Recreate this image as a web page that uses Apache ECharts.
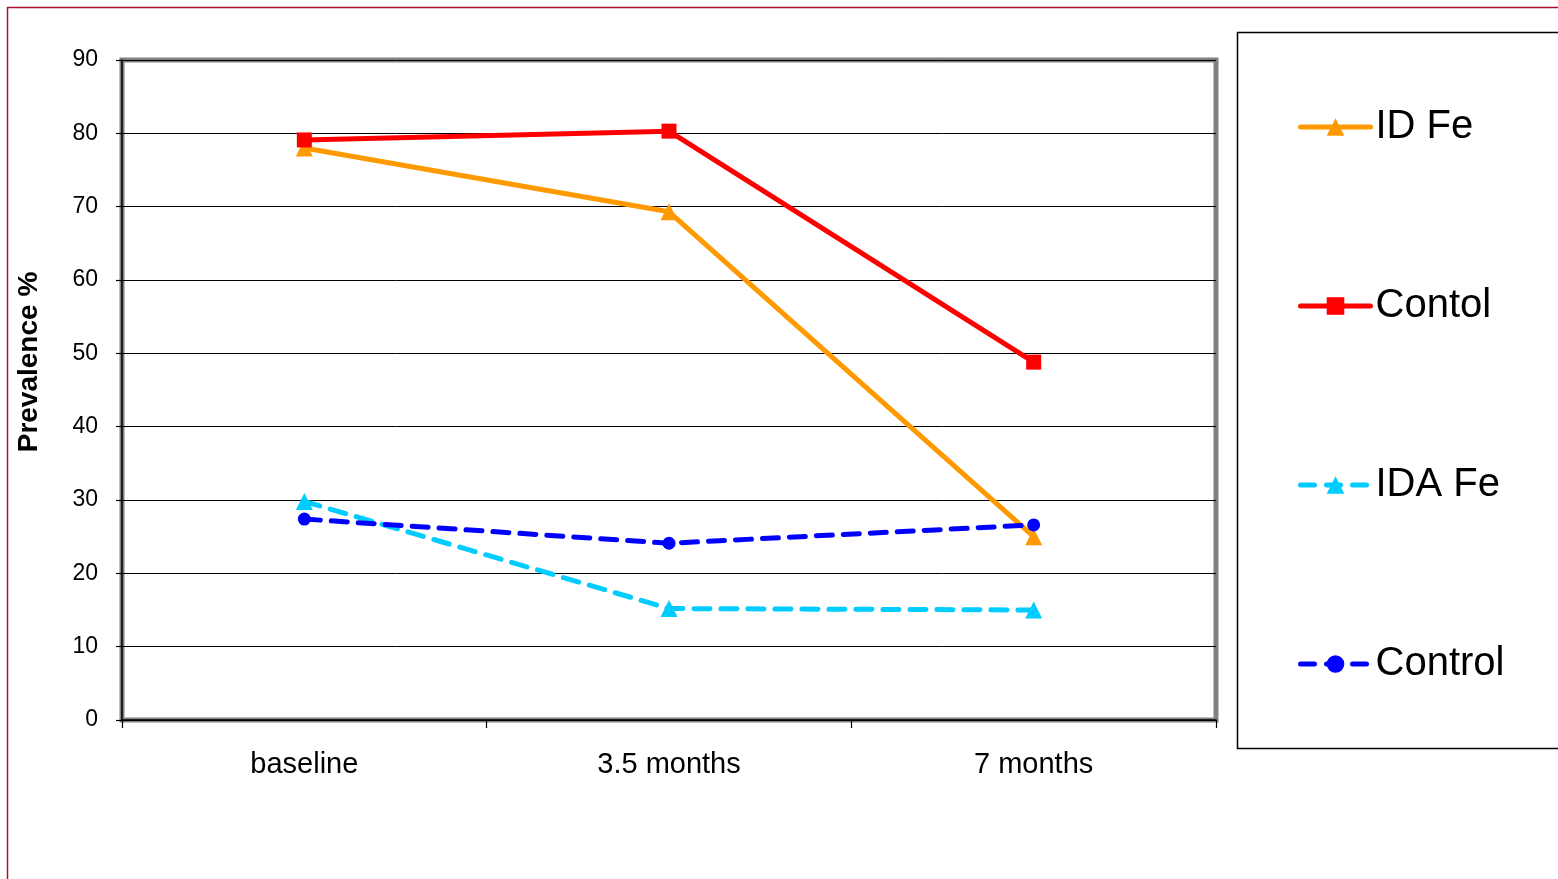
<!DOCTYPE html>
<html>
<head>
<meta charset="utf-8">
<script src="https://cdn.jsdelivr.net/npm/echarts@6/dist/echarts.min.js"></script>
<style>
  html, body { margin: 0; padding: 0; background: #fff; }
  #chart { width: 1558px; height: 879px; }
</style>
</head>
<body>
<div id="chart"></div>
<script>
// Prevalence over time by group
const categories = ['baseline', '3.5 months', '7 months'];
const idFe = [78.0, 69.3, 25.0];
const contolA = [79.1, 80.3, 48.8];
const idaFe = [29.8, 15.2, 15.0];
const controlB = [27.4, 24.1, 26.6];
const seriesNames = ['ID Fe', 'Contol', 'IDA Fe', 'Control'];
const seriesDashed = [false, false, true, true];

const FONT = 'Liberation Sans, Arial, sans-serif';
const chart = echarts.init(document.getElementById('chart'));

// one legend block per series, stacked down the right-hand panel
const legendCenters = [122, 301, 480, 659];
const legends = seriesNames.map((name, i) => ({
  data: [name],
  left: 1293,
  top: legendCenters[i] - 22,
  itemWidth: 70,
  itemHeight: 22,
  itemGap: 8,
  lineStyle: {
    width: 5,
    cap: 'round',
    type: seriesDashed[i] ? [14, 12] : 'solid'
  },
  textStyle: { fontFamily: FONT, fontSize: 40, color: '#000', lineHeight: 44 },
  selectedMode: false
}));

function lineSeries(name, data, color, symbol, symbolSize, dashed) {
  return {
    name, type: 'line', data,
    symbol, symbolSize,
    itemStyle: { color },
    lineStyle: {
      color, width: 5,
      type: dashed ? [16, 11] : 'solid',
      cap: 'round'
    },
    emphasis: { disabled: true },
    animation: false,
    z: 3
  };
}

chart.setOption({
  backgroundColor: '#fff',
  animation: false,
  legend: legends,
  grid: {
    left: 122, right: 342, top: 60, bottom: 159,
    show: true, borderColor: '#808080', borderWidth: 5,
    backgroundColor: 'transparent'
  },
  xAxis: {
    type: 'category',
    data: categories,
    boundaryGap: true,
    axisLine: { lineStyle: { color: '#000', width: 1.5 } },
    axisTick: { show: true, length: 8, lineStyle: { color: '#000', width: 1.2 } },
    axisLabel: { fontFamily: FONT, fontSize: 29, color: '#000', margin: 30 },
    splitLine: { show: false }
  },
  yAxis: {
    type: 'value',
    min: 0, max: 90, interval: 10,
    axisLine: { show: true, lineStyle: { color: '#000', width: 1.5 } },
    axisTick: { show: true, length: 6, lineStyle: { color: '#000', width: 1.2 } },
    axisLabel: { fontFamily: FONT, fontSize: 23, color: '#000', margin: 24 },
    splitLine: { show: true, lineStyle: { color: '#000', width: 1 } }
  },
  series: [
    lineSeries('ID Fe', idFe, '#FF9900', 'triangle', 17, false),
    lineSeries('Contol', contolA, '#FF0000', 'rect', 15, false),
    lineSeries('IDA Fe', idaFe, '#00CCFF', 'triangle', 17, true),
    lineSeries('Control', controlB, '#0000FF', 'circle', 13, true)
  ],
  graphic: [
    // outer frame (top and left edges)
    { type: 'line', shape: { x1: 7, y1: 7.5, x2: 1558, y2: 7.5 }, style: { stroke: '#A8102E', lineWidth: 1.5 }, silent: true },
    { type: 'line', shape: { x1: 7.5, y1: 7, x2: 7.5, y2: 879 }, style: { stroke: '#A8102E', lineWidth: 1.5 }, silent: true },
    // legend panel
    { type: 'rect', shape: { x: 1237.5, y: 32.5, width: 400, height: 716 }, style: { fill: 'transparent', stroke: '#000', lineWidth: 1.5 }, silent: true, z: -1 },
    // y-axis title
    {
      type: 'text', x: 29, y: 362, rotation: Math.PI / 2, silent: true,
      style: {
        text: 'Prevalence %', fontFamily: FONT, fontSize: 28, fontWeight: 'bold',
        fill: '#000', align: 'center', verticalAlign: 'middle'
      }
    }
  ]
});
</script>
</body>
</html>
